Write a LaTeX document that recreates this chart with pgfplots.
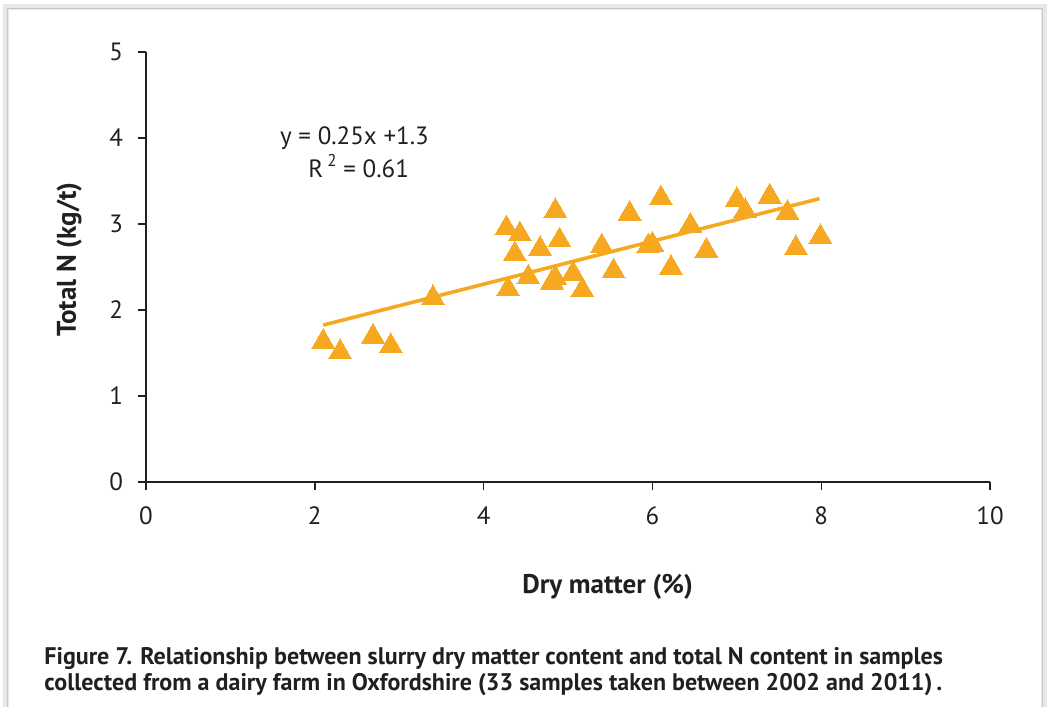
\documentclass[border=0pt]{standalone}
\usepackage{fontspec}
\setmainfont{PT Sans}
\usepackage{pgfplots}
\pgfplotsset{compat=1.18}
\definecolor{tri}{RGB}{246,168,33}
\definecolor{axisc}{RGB}{35,31,32}
\begin{document}
\begin{tikzpicture}
\useasboundingbox (0,0) rectangle (525pt,353.5pt);
\fill[white] (0,0) rectangle (525pt,353.5pt);
\draw[gray!18, line width=3pt] (3pt,-5pt) -- (3pt,350pt) -- (522pt,350pt) -- (522pt,-5pt);
\draw[gray!45, line width=0.5pt] (3.8pt,-5pt) -- (3.8pt,349.2pt) -- (521.2pt,349.2pt) -- (521.2pt,-5pt);
\begin{axis}[
  at={(73pt,112.5pt)}, anchor=south west,
  scale only axis, width=422pt, height=215pt,
  xmin=0, xmax=10, ymin=0, ymax=5,
  axis lines=left,
  axis line style={-, axisc, line width=0.7pt},
  xtick={0,2,...,10}, ytick={0,1,...,5},
  tick align=outside, major tick length=4pt,
  tick style={axisc, line width=0.7pt},
  ticklabel style={font=\fontsize{12.5}{15}\selectfont, text=axisc},
  xticklabel style={yshift=-5pt},
  yticklabel style={xshift=-4pt},
  /pgf/number format/assume math mode=true,
  clip=false,
]
\addplot[tri, line width=1.8pt, no marks] coordinates {(2.1,1.825) (7.98,3.295)};
\addplot[tri, only marks, mark=triangle*, mark size=6.6pt, mark options={solid, fill=tri, draw=tri, line width=0pt}] coordinates {
(2.10,1.63) (2.30,1.51) (2.69,1.69) (2.90,1.58) (3.40,2.14)
(4.27,2.95) (4.43,2.88) (4.37,2.65) (4.85,3.15) (4.90,2.81)
(4.67,2.71) (4.29,2.24) (4.53,2.38) (4.85,2.37) (4.81,2.32)
(5.06,2.42) (5.17,2.23) (5.40,2.74) (5.54,2.45) (5.73,3.12)
(5.95,2.74) (6.00,2.76) (6.10,3.30) (6.22,2.49) (6.45,2.98)
(6.64,2.69) (7.00,3.28) (7.10,3.15) (7.39,3.32) (7.60,3.13)
(7.70,2.72) (7.99,2.85)
};
\node[font=\fontsize{12.5}{15}\selectfont, text=axisc] at (axis cs:2.47,4.00) {y = 0.25x +1.3};
\node[font=\fontsize{12.5}{15}\selectfont, text=axisc] at (axis cs:2.52,3.67) {R\,\raisebox{0.45em}{\fontsize{8.5}{10}\selectfont 2} = 0.61};
\node[font=\fontsize{13.5}{16}\bfseries, text=axisc] at (rel axis cs:0.547,-0.244) {Dry matter (\%)};
\node[font=\fontsize{13.5}{16}\bfseries, text=axisc, rotate=90] at (rel axis cs:-0.091,0.517) {Total N (kg/t)};
\end{axis}
\node[anchor=north west, align=left, font=\fontsize{12}{13}\bfseries, text=axisc, inner sep=0pt] at (22pt,30pt) {Figure 7. Relationship between slurry dry matter content and total N content in samples\\collected from a dairy farm in Oxfordshire (33 samples taken between 2002 and 2011)\,.};
\end{tikzpicture}
\end{document}
